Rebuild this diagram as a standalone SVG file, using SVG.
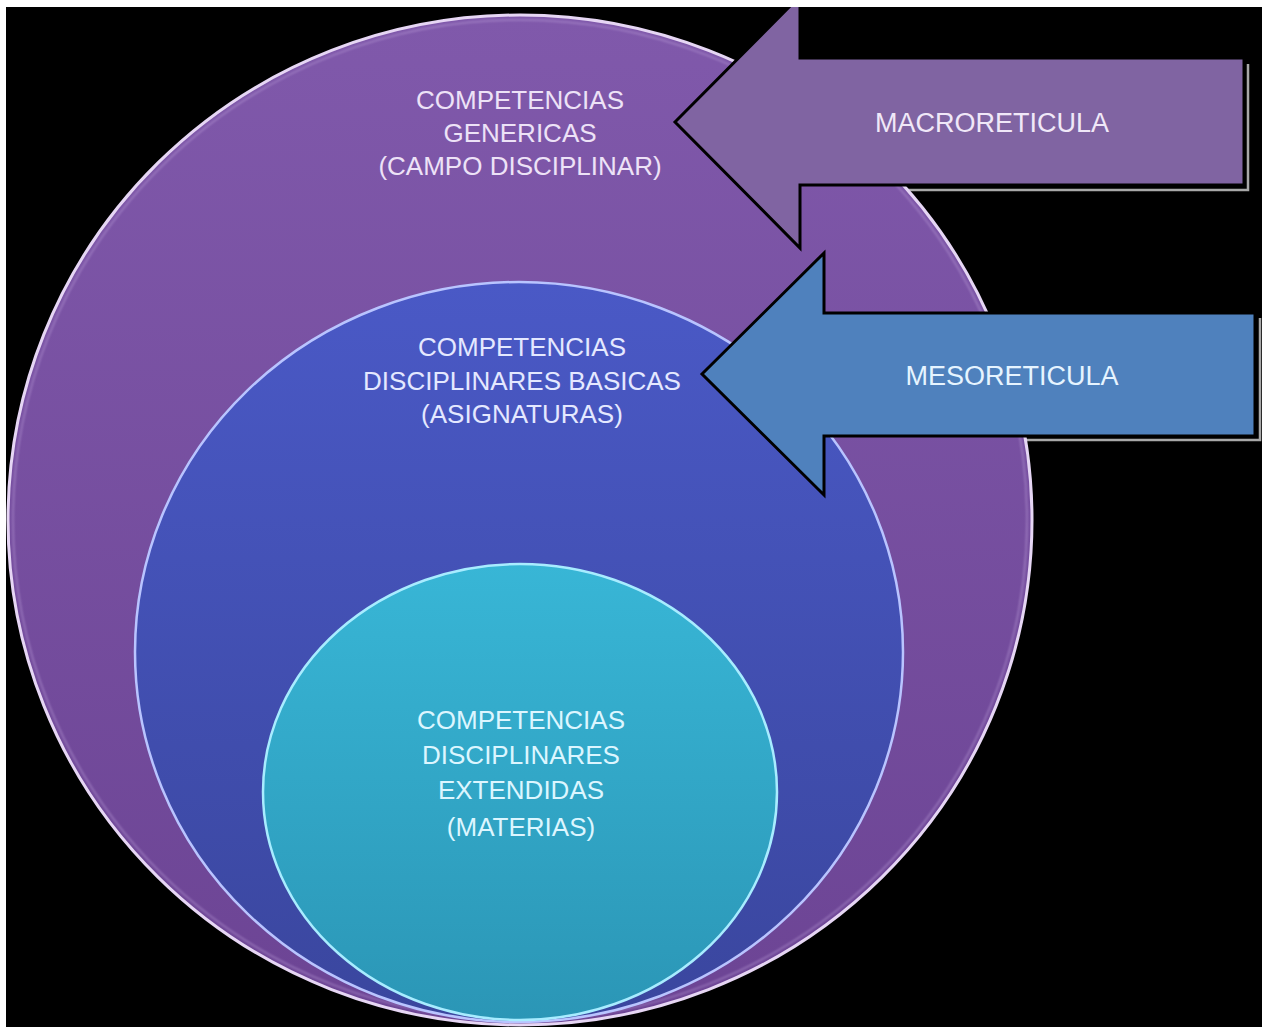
<svg xmlns="http://www.w3.org/2000/svg" width="1262" height="1027" viewBox="0 0 1262 1027">
  <defs>
    <linearGradient id="gOuter" x1="0" y1="0" x2="0" y2="1">
      <stop offset="0" stop-color="#8059ab"/>
      <stop offset="1" stop-color="#6c4494"/>
    </linearGradient>
    <linearGradient id="gMid" x1="0" y1="0" x2="0" y2="1">
      <stop offset="0" stop-color="#4a59c6"/>
      <stop offset="1" stop-color="#3a469e"/>
    </linearGradient>
    <linearGradient id="gInner" x1="0" y1="0" x2="0" y2="1">
      <stop offset="0" stop-color="#38b6d6"/>
      <stop offset="1" stop-color="#2b96b6"/>
    </linearGradient>
    <filter id="glow" x="-10%" y="-10%" width="120%" height="120%">
      <feGaussianBlur stdDeviation="1.2"/>
    </filter>
  </defs>
  <style>
    .lbl { font-family: "Liberation Sans", Arial, sans-serif; font-size: 26px; text-anchor: middle; }
    .big { font-size: 27px; }
    .t1 { fill: #ede2f7; }
    .t2 { fill: #e4e8ff; }
    .t3 { fill: #dcf6ff; }
    .tm { fill: #f0e8f8; }
    .ts { fill: #e6f4ff; }
    .arrow { stroke: #000; stroke-width: 3; stroke-linejoin: miter; }
    .shadow { fill: none; stroke: #a8a8a8; stroke-width: 2.5; }
  </style>
  <rect x="0" y="0" width="1262" height="1027" fill="#000"/>

  <g id="connectors">
    <polyline class="shadow" points="800,190 1248,190 1248,64"/>
    <polyline class="shadow" points="824,440 1260,440 1260,318"/>
  </g>

  <g id="node-generic">
    <ellipse cx="520" cy="520" rx="512" ry="505" fill="url(#gOuter)" stroke="#e6d6f4" stroke-width="3"/>
    <ellipse cx="520" cy="520" rx="507" ry="500" fill="none" stroke="#b89ad6" stroke-width="1.5" opacity="0.6" filter="url(#glow)"/>
    <text class="lbl t1" x="520" y="109">COMPETENCIAS</text>
    <text class="lbl t1" x="520" y="142">GENERICAS</text>
    <text class="lbl t1" x="520" y="175">(CAMPO DISCIPLINAR)</text>
  </g>

  <g id="node-basic">
    <ellipse cx="519" cy="652" rx="384" ry="370" fill="url(#gMid)" stroke="#b9c4ff" stroke-width="2.5"/>
    <text class="lbl t2" x="522" y="356">COMPETENCIAS</text>
    <text class="lbl t2" x="522" y="390">DISCIPLINARES BASICAS</text>
    <text class="lbl t2" x="522" y="423">(ASIGNATURAS)</text>
  </g>

  <g id="node-extended">
    <ellipse cx="520" cy="792" rx="257" ry="228" fill="url(#gInner)" stroke="#a8ecff" stroke-width="2.5"/>
    <text class="lbl t3" x="521" y="729">COMPETENCIAS</text>
    <text class="lbl t3" x="521" y="764">DISCIPLINARES</text>
    <text class="lbl t3" x="521" y="799">EXTENDIDAS</text>
    <text class="lbl t3" x="521" y="836">(MATERIAS)</text>
  </g>

  <g id="node-macro">
    <polygon class="arrow" fill="#8064a2" points="675,122 800,-4 800,58 1244,58 1244,185 800,185 800,248"/>
    <text class="lbl big tm" x="992" y="132">MACRORETICULA</text>
  </g>

  <g id="node-meso">
    <polygon class="arrow" fill="#4f81bd" points="702,374 824,253 824,313 1255,313 1255,436 824,436 824,495"/>
    <text class="lbl big ts" x="1012" y="385">MESORETICULA</text>
  </g>

  <rect x="0" y="0" width="1262" height="7" fill="#fff"/>
  <rect x="0" y="0" width="6" height="1027" fill="#fff"/>
</svg>
